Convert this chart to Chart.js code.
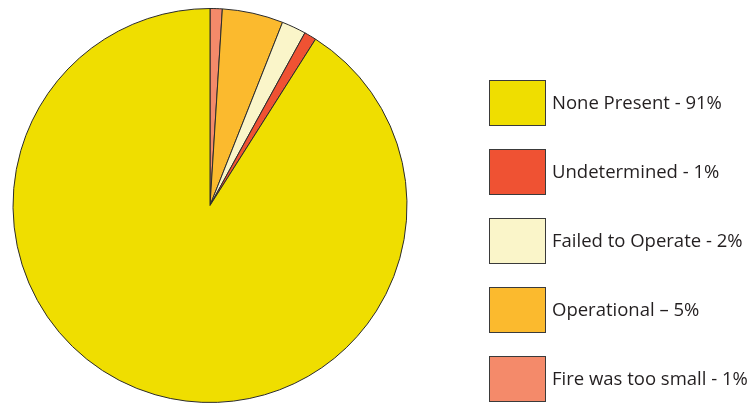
<!DOCTYPE html>
<html>
<head>
<meta charset="utf-8">
<script src="https://cdn.jsdelivr.net/npm/chart.js@4/dist/chart.umd.min.js"></script>
<style>
  html, body { margin: 0; padding: 0; background: #fff; }
  #wrap { position: relative; width: 754px; height: 403px; }
</style>
</head>
<body>
<div id="wrap"><canvas id="pie" width="754" height="403"></canvas></div>
<script>
// legend order (top to bottom)
const categories = ['None Present', 'Undetermined', 'Failed to Operate', 'Operational', 'Fire was too small'];
const shares = [91, 1, 2, 5, 1];
const legendText = ['None Present - 91%', 'Undetermined - 1%', 'Failed to Operate - 2%', 'Operational \u2013 5%', 'Fire was too small - 1%'];
const colors = ['#EFDE00', '#EF5233', '#FAF5C9', '#FBBA2E', '#F48A6A'];

// the slices run clockwise from 12 o'clock in reverse legend order
const order = [4, 3, 2, 1, 0];

const boxLegend = {
    id: 'boxLegend',
    afterDraw(chart) {
        const ctx = chart.ctx;
        ctx.save();
        ctx.font = '18.5px "Open Sans", sans-serif';
        ctx.textBaseline = 'middle';
        legendText.forEach((txt, i) => {
            const y = 80 + i * 69;
            ctx.fillStyle = colors[i];
            ctx.fillRect(489, y, 57, 46);
            ctx.strokeStyle = '#3a3a3a';
            ctx.lineWidth = 1;
            ctx.strokeRect(489.5, y + 0.5, 56, 45);
            ctx.fillStyle = '#231f20';
            ctx.fillText(txt, 552, y + 24);
        });
        ctx.restore();
    }
};

new Chart(document.getElementById('pie'), {
    type: 'pie',
    data: {
        labels: order.map(i => categories[i]),
        datasets: [{
            data: order.map(i => shares[i]),
            backgroundColor: order.map(i => colors[i]),
            borderColor: '#2b2b2b',
            borderWidth: 1
        }]
    },
    options: {
        responsive: false,
        animation: false,
        layout: { padding: { left: 12, top: 8, right: 346, bottom: -1 } },
        plugins: {
            legend: { display: false },
            tooltip: { enabled: false }
        }
    },
    plugins: [boxLegend]
});
</script>
</body>
</html>
